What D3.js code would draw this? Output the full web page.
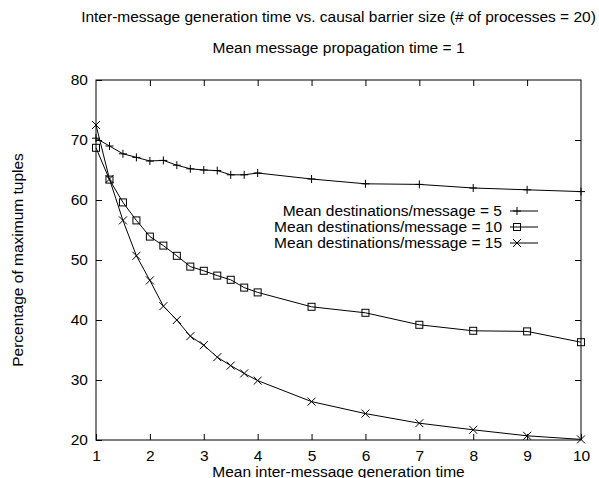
<!DOCTYPE html>
<html>
<head>
<meta charset="utf-8">
<script src="https://cdn.jsdelivr.net/npm/d3@7"></script>
<style>
  body { margin: 0; background: #fff; }
  svg text { font-family: "Liberation Sans", Arial, Helvetica, sans-serif; fill: #000; }
</style>
</head>
<body>
<svg width="599" height="478"></svg>
<script>
// Data
var xValues = [1, 1.25, 1.5, 1.75, 2, 2.25, 2.5, 2.75, 3, 3.25, 3.5, 3.75, 4, 5, 6, 7, 8, 9, 10]
var dest5 = [70.3, 69.0, 67.7, 67.1, 66.5, 66.6, 65.8, 65.2, 65.0, 64.9, 64.2, 64.2, 64.5, 63.5, 62.7, 62.6, 62.0, 61.7, 61.4]
var dest10 = [68.7, 63.4, 59.6, 56.6, 53.9, 52.4, 50.7, 48.9, 48.2, 47.4, 46.7, 45.4, 44.6, 42.2, 41.2, 39.2, 38.2, 38.1, 36.3]
var dest15 = [72.5, 63.5, 56.6, 50.7, 46.6, 42.3, 40.0, 37.3, 35.8, 33.8, 32.4, 31.1, 29.9, 26.4, 24.4, 22.8, 21.7, 20.7, 20.1]
var seriesNames = ['Mean destinations/message = 5', 'Mean destinations/message = 10', 'Mean destinations/message = 15']
var seriesMarks = ['plus', 'square', 'cross']
var xTicks = [1, 2, 3, 4, 5, 6, 7, 8, 9, 10]
var yTicks = [20, 30, 40, 50, 60, 70, 80]
var title = 'Inter-message generation time vs. causal barrier size (# of processes = 20)'
var subtitle = 'Mean message propagation time = 1'
var xLabel = 'Mean inter-message generation time'
var yLabel = 'Percentage of maximum tuples'

var svg = d3.select('svg')
// plot frame (window.top is reserved, so use other names)
var pLeft = 96, pRight = 581, pTop = 80, pBottom = 440
var fontSize = 15.5

var x = d3.scaleLinear().domain([1, 10]).range([pLeft, pRight])
var y = d3.scaleLinear().domain([20, 80]).range([pBottom, pTop])

// titles
svg.append('text').attr('x', (pLeft + pRight) / 2).attr('y', 22)
  .attr('text-anchor', 'middle').style('font-size', fontSize + 'px').text(title)
svg.append('text').attr('x', (pLeft + pRight) / 2).attr('y', 53)
  .attr('text-anchor', 'middle').style('font-size', fontSize + 'px').text(subtitle)

// axes, ticks point inward on all sides
function styleAxis(g) {
  g.select('.domain').remove()
  g.selectAll('line').attr('stroke', '#000')
  g.selectAll('text').style('font-size', fontSize + 'px').attr('font-family', null)
}
svg.append('g').attr('transform', 'translate(0,' + pBottom + ')')
  .call(d3.axisBottom(x).tickValues(xTicks).tickSize(-6).tickPadding(10).tickFormat(d3.format('d')))
  .call(styleAxis)
svg.append('g').attr('transform', 'translate(0,' + pTop + ')')
  .call(d3.axisTop(x).tickValues(xTicks.slice(1, -1)).tickSize(-6).tickFormat(''))
  .call(styleAxis)
svg.append('g').attr('transform', 'translate(' + pLeft + ',0)')
  .call(d3.axisLeft(y).tickValues(yTicks).tickSize(-6).tickPadding(8).tickFormat(d3.format('d')))
  .call(styleAxis)
svg.append('g').attr('transform', 'translate(' + pRight + ',0)')
  .call(d3.axisRight(y).tickValues(yTicks.slice(1, -1)).tickSize(-6).tickFormat(''))
  .call(styleAxis)

svg.append('rect').attr('x', pLeft).attr('y', pTop)
  .attr('width', pRight - pLeft).attr('height', pBottom - pTop)
  .attr('fill', 'none').attr('stroke', '#000').attr('stroke-width', 1)

// axis labels
svg.append('text').attr('x', (pLeft + pRight) / 2).attr('y', 477)
  .attr('text-anchor', 'middle').style('font-size', fontSize + 'px').text(xLabel)
svg.append('text').attr('transform', 'translate(23,' + (pTop + pBottom) / 2 + ') rotate(-90)')
  .attr('text-anchor', 'middle').style('font-size', fontSize + 'px').text(yLabel)

// markers
function drawMark(g, kind, cx, cy) {
  var s = 4
  if (kind === 'plus') {
    g.append('path').attr('d', 'M' + (cx - s) + ',' + cy + 'H' + (cx + s) + 'M' + cx + ',' + (cy - s) + 'V' + (cy + s))
  } else if (kind === 'square') {
    g.append('rect').attr('x', cx - 3.5).attr('y', cy - 3.5).attr('width', 7).attr('height', 7)
  } else {
    g.append('path').attr('d', 'M' + (cx - s) + ',' + (cy - s) + 'L' + (cx + s) + ',' + (cy + s) +
      'M' + (cx - s) + ',' + (cy + s) + 'L' + (cx + s) + ',' + (cy - s))
  }
}

var line = d3.line().x(d => x(d[0])).y(d => y(d[1]))
var allSeries = [dest5, dest10, dest15]

allSeries.forEach(function (vals, i) {
  var pts = xValues.map((v, j) => [v, vals[j]])
  var g = svg.append('g').attr('fill', 'none').attr('stroke', '#000').attr('stroke-width', 1)
  g.append('path').attr('d', line(pts))
  pts.forEach(p => drawMark(g, seriesMarks[i], x(p[0]), y(p[1])))

  // legend row
  var ly = 211 + i * 16
  svg.append('text').attr('x', 502).attr('y', ly).attr('dy', '0.35em')
    .attr('text-anchor', 'end').style('font-size', fontSize + 'px').text(seriesNames[i])
  var lg = svg.append('g').attr('fill', 'none').attr('stroke', '#000').attr('stroke-width', 1)
  lg.append('path').attr('d', 'M510,' + ly + 'H538')
  drawMark(lg, seriesMarks[i], 517, ly)
})
</script>
</body>
</html>
